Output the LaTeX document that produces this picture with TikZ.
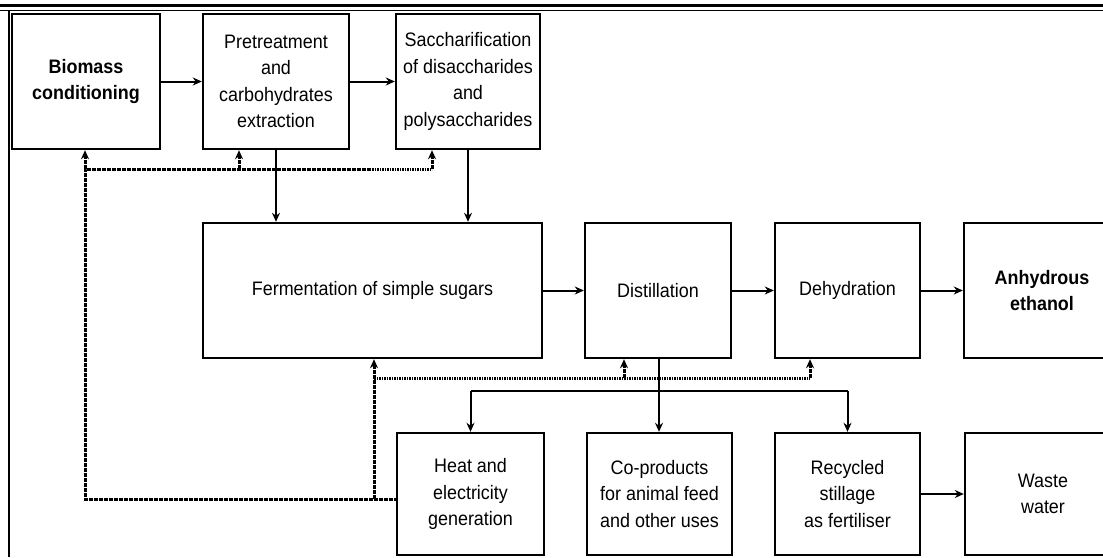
\documentclass[tikz,border=0pt]{standalone}
\usepackage{fontspec}
\setmainfont[FakeStretch=0.92]{Liberation Sans}
\usetikzlibrary{arrows.meta}
\begin{document}
\begin{tikzpicture}[x=1pt,y=-1pt,
  box/.style={draw, line width=2.4pt, align=center, inner sep=0pt, font=\fontsize{19.5}{26.5}\selectfont},
  bbox/.style={box, font=\fontsize{19.5}{26.5}\selectfont\bfseries},
  arr/.style={line width=2pt, -{Stealth[length=9pt,width=8pt]}},
  sl/.style={line width=2pt},
  dot/.style={line width=3pt, dash pattern=on 1.6pt off 0.9pt},
  darr/.style={dot, -{Stealth[length=9pt,width=8pt]}}]
\useasboundingbox (0,0) rectangle (1103,557);
\clip (0,0) rectangle (1103,557);
% header rules and frame
\draw[line width=3.5pt] (0,5.5) -- (1103,5.5);
\draw[line width=1.6pt] (0,10.5) -- (1103,10.5);
\draw[line width=2pt] (9,11) -- (9,557);
% boxes
\node[bbox, minimum width=148pt, minimum height=135pt] (bio) at (86,81.5) {Biomass\\conditioning};
\node[box, minimum width=146pt, minimum height=135pt] (pre) at (276,81.5) {Pretreatment\\and\\carbohydrates\\extraction};
\node[box, minimum width=144pt, minimum height=135pt] (sac) at (468,81.5) {Saccharification\\of disaccharides\\and\\polysaccharides};
\node[box, minimum width=339pt, minimum height=135pt] (fer) at (372.5,290.5) {Fermentation of simple sugars};
\node[box, minimum width=146pt, minimum height=135pt] (dis) at (658,290.5) {Distillation};
\node[box, minimum width=145pt, minimum height=135pt] (deh) at (847.5,290.5) {Dehydration};
\node[bbox, minimum width=156pt, minimum height=135pt, text width=156pt] (anh) at (1042,290.5) {Anhydrous\\ethanol};
\node[box, minimum width=147pt, minimum height=122pt] (heat) at (470.5,494) {Heat and\\electricity\\generation};
\node[box, minimum width=145pt, minimum height=122pt] (cop) at (659.5,494) {Co-products\\for animal feed\\and other uses};
\node[box, minimum width=145pt, minimum height=122pt] (rec) at (847.5,494) {Recycled\\stillage\\as fertiliser};
\node[box, minimum width=156pt, minimum height=122pt, text width=156pt] (was) at (1043,494) {Waste\\water};
% main flow
\draw[arr] (bio.east) -- (pre.west);
\draw[arr] (pre.east) -- (sac.west);
\draw[arr] (pre.south) -- (pre.south |- fer.north);
\draw[arr] (sac.south) -- (sac.south |- fer.north);
\draw[arr] (fer.east) -- (dis.west);
\draw[arr] (dis.east) -- (deh.west);
\draw[arr] (deh.east) -- (anh.west);
\draw[arr] (rec.east) -- (was.west);
% distillation outputs
\coordinate (j) at (659,391);
\draw[arr] (dis.south -| j) -- (cop.north -| j);
\draw[sl] (heat.north |- j) -- (rec.north |- j);
\draw[arr] (heat.north |- j) -- (heat.north);
\draw[arr] (rec.north |- j) -- (rec.north);
% energy recycle (dotted)
\coordinate (h) at (398,499);
\coordinate (v1) at (374,499);
\coordinate (l) at (85,499);
\coordinate (tl) at (85,169);
\coordinate (tp) at (239,169);
\coordinate (ts) at (432,169);
\coordinate (m) at (374,378);
\coordinate (md) at (624,378);
\coordinate (mh) at (810,378);
\draw[dot] (h) -- (l) -- (tl) -- (ts);
\draw[darr] (tl) -- (tl |- bio.south);
\draw[darr] (tp) -- (tp |- pre.south);
\draw[darr] (ts) -- (ts |- sac.south);
\draw[darr] (v1) -- (v1 |- fer.south);
\draw[dot] (m) -- (mh);
\draw[darr] (md) -- (md |- dis.south);
\draw[darr] (mh) -- (mh |- deh.south);
\end{tikzpicture}
\end{document}
